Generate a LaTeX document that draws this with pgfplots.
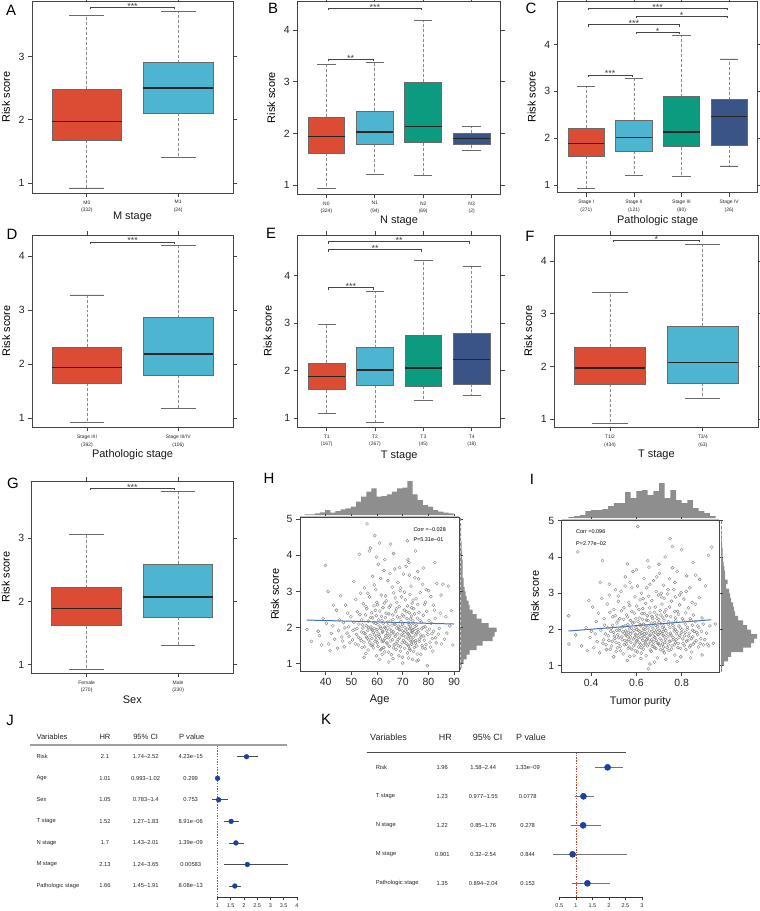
\documentclass[border=0pt]{standalone}
\usepackage{fontspec}
\setmainfont{Liberation Sans}
\usepackage{pgfplots}
\pgfplotsset{compat=1.18}
\usepgfplotslibrary{statistics}
\usetikzlibrary{calc}

\definecolor{cRed}{HTML}{DC4B33}
\definecolor{cCyan}{HTML}{4DB5D0}
\definecolor{cGreen}{HTML}{0D9B80}
\definecolor{cNavy}{HTML}{3B5488}
\definecolor{axgray}{HTML}{454545}
\definecolor{boxline}{HTML}{6A6A6A}
\definecolor{whisk}{HTML}{8C8C8C}
\definecolor{histgray}{HTML}{8E8E8E}
\definecolor{ptgray}{HTML}{858585}
\definecolor{regblue}{HTML}{3E6FC2}
\definecolor{fpblue}{HTML}{1E3FA0}
\definecolor{fpred}{HTML}{D9412B}

\newcommand{\fs}[1]{\fontsize{#1}{#1}\selectfont}

% box: position, lower whisker, q1, median, q3, upper whisker, fill
\newcommand{\bx}[7]{\addplot[fill=#7, draw=boxline, line width=0.8bp,
  boxplot prepared={draw position=#1, lower whisker=#2, lower quartile=#3,
  median=#4, upper quartile=#5, upper whisker=#6, box extend=0.76, whisker extend=0.38}]
  coordinates {};}
% significance bracket: x1, x2, mid, y, stars
\newcommand{\sig}[5]{%
  \draw[axgray, line width=0.6bp] (axis cs:#1,#4) ++(0bp,-2bp) -- ++(0bp,2bp) -- (axis cs:#2,#4) -- ++(0bp,-2bp);
  \node[font=\fs{9}, anchor=south, inner sep=0pt, yshift=-2bp, text=black!75] at (axis cs:#3,#4) {#5};}

\pgfplotsset{
  boxplot/draw direction=y,
  boxplot/draw/lower whisker/.code={%
    \draw[whisk, densely dashed, line width=0.7bp]
      (boxplot box cs:\pgfplotsboxplotvalue{lower quartile},0.5) --
      (boxplot whisker cs:\pgfplotsboxplotvalue{lower whisker},0.5);
    \draw[boxline, line width=0.8bp]
      (boxplot whisker cs:\pgfplotsboxplotvalue{lower whisker},0) --
      (boxplot whisker cs:\pgfplotsboxplotvalue{lower whisker},1);
  },
  boxplot/draw/upper whisker/.code={%
    \draw[whisk, densely dashed, line width=0.7bp]
      (boxplot box cs:\pgfplotsboxplotvalue{upper quartile},0.5) --
      (boxplot whisker cs:\pgfplotsboxplotvalue{upper whisker},0.5);
    \draw[boxline, line width=0.8bp]
      (boxplot whisker cs:\pgfplotsboxplotvalue{upper whisker},0) --
      (boxplot whisker cs:\pgfplotsboxplotvalue{upper whisker},1);
  },
  boxplot/every median/.style={draw=black!85, line width=1.4bp},
  base/.style={scale only axis, anchor=south west, clip=false,
    axis line style={axgray, line width=0.9bp},
    tick align=outside, major tick length=4bp,
    tick style={axgray, line width=0.7bp},
    tick label style={font=\fs{10.5}, text=black!85},
    /pgf/number format/assume math mode=true,
    ylabel style={font=\fs{11}, anchor=center},
    ylabel={Risk score}},
  bxp/.style={base, xmin=0.4, ytick={1,2,3,4}, xtick={1,2,3,4},
    xticklabel style={font=\fontsize{5}{7.6}\selectfont, align=center}},
  hist/.style={scale only axis, anchor=south west, hide axis, clip=false},
  fp/.style={scale only axis, anchor=south west, clip=false,
    axis x line=bottom, axis y line=none,
    axis line style={-, black!80, line width=0.7bp},
    tick align=outside, major tick length=3bp,
    tick style={black!80, line width=0.6bp},
    xticklabel style={font=\fs{5.5}, text=black!85},
    /pgf/number format/assume math mode=true},
  pts/.style={only marks, mark=o, mark size=1.5bp, ptgray, mark options={line width=0.4bp}},
}

\begin{document}
\begin{tikzpicture}
\useasboundingbox (0,0) rectangle (760bp,-911bp);

% ---------- A ----------
\begin{axis}[bxp, at={(32bp,-193bp)}, width=201bp, height=192bp,
  xmax=2.6, ymin=0.84, ymax=3.88, ytick={1,2,3},
  ylabel style={at={($(rel axis cs:0,0.5)+(-26bp,0bp)$)}},
  xticklabels={{M0\\(332)},{M1\\(24)}}]
\bx{1}{0.92}{1.68}{1.97}{2.48}{3.65}{cRed}
\bx{2}{1.40}{2.10}{2.50}{2.90}{3.72}{cCyan}
\sig{1.04}{1.96}{1.5}{3.78}{***}
\end{axis}

% ---------- B ----------
\begin{axis}[bxp, at={(297.3bp,-194bp)}, width=203.4bp, height=193bp,
  xmax=4.6, ymin=0.83, ymax=4.56,
  ylabel style={at={($(rel axis cs:0,0.5)+(-26bp,0bp)$)}},
  xticklabels={{N0\\(324)},{N1\\(94)},{N2\\(69)},{N3\\(2)}}]
\bx{1}{0.94}{1.62}{1.94}{2.32}{3.34}{cRed}
\bx{2}{1.21}{1.79}{2.03}{2.43}{3.37}{cCyan}
\bx{3}{1.19}{1.82}{2.13}{2.99}{4.19}{cGreen}
\bx{4}{1.67}{1.78}{1.90}{2.01}{2.13}{cNavy}
\sig{1.04}{1.96}{1.5}{3.43}{**}
\sig{1.04}{2.96}{2.0}{4.42}{***}
\end{axis}

% ---------- C ----------
\begin{axis}[bxp, at={(557.7bp,-192.7bp)}, width=200bp, height=191bp,
  xmax=4.6, ymin=0.84, ymax=4.91,
  ylabel style={at={($(rel axis cs:0,0.5)+(-26bp,0bp)$)}},
  xticklabels={{Stage I\\(271)},{Stage II\\(121)},{Stage III\\(80)},{Stage IV\\(26)}}]
\bx{1}{0.93}{1.62}{1.89}{2.22}{3.11}{cRed}
\bx{2}{1.21}{1.73}{2.01}{2.38}{3.28}{cCyan}
\bx{3}{1.19}{1.82}{2.13}{2.89}{4.20}{cGreen}
\bx{4}{1.41}{1.85}{2.46}{2.82}{3.69}{cNavy}
\sig{1.04}{1.96}{1.5}{3.35}{***}
\sig{2.04}{2.96}{2.5}{4.26}{*}
\sig{1.04}{2.96}{2.0}{4.42}{***}
\sig{2.04}{3.96}{3.0}{4.60}{*}
\sig{1.04}{3.96}{2.5}{4.77}{***}
\end{axis}

% ---------- D ----------
\begin{axis}[bxp, at={(32.3bp,-427.3bp)}, width=200.7bp, height=192.3bp,
  xmax=2.6, ymin=0.83, ymax=4.39,
  ylabel style={at={($(rel axis cs:0,0.5)+(-26bp,0bp)$)}},
  xticklabels={{Stage I/II\\(392)},{Stage III/IV\\(106)}}]
\bx{1}{0.92}{1.65}{1.94}{2.31}{3.28}{cRed}
\bx{2}{1.18}{1.80}{2.19}{2.86}{4.20}{cCyan}
\sig{1.04}{1.96}{1.5}{4.26}{***}
\end{axis}

% ---------- E ----------
\begin{axis}[bxp, at={(297.7bp,-427.3bp)}, width=203bp, height=192.3bp,
  xmax=4.6, ymin=0.81, ymax=4.86,
  ylabel style={at={($(rel axis cs:0,0.5)+(-30bp,0bp)$)}},
  xticklabels={{T1\\(167)},{T2\\(267)},{T3\\(45)},{T4\\(18)}}]
\bx{1}{1.11}{1.60}{1.88}{2.16}{2.98}{cRed}
\bx{2}{0.92}{1.70}{2.02}{2.49}{3.68}{cCyan}
\bx{3}{1.38}{1.68}{2.06}{2.75}{4.32}{cGreen}
\bx{4}{1.48}{1.72}{2.24}{2.79}{4.20}{cNavy}
\sig{1.04}{1.96}{1.5}{3.75}{***}
\sig{1.04}{2.96}{2.0}{4.55}{**}
\sig{1.04}{3.96}{2.5}{4.72}{**}
\end{axis}

% ---------- F ----------
\begin{axis}[bxp, at={(554.3bp,-427.3bp)}, width=204.2bp, height=192.3bp,
  xmax=2.6, ymin=0.85, ymax=4.49,
  ylabel style={at={($(rel axis cs:0,0.5)+(-26bp,0bp)$)}},
  xticklabels={{T1/2\\(434)},{T3/4\\(63)}}]
\bx{1}{0.92}{1.67}{1.97}{2.37}{3.40}{cRed}
\bx{2}{1.39}{1.68}{2.08}{2.76}{4.31}{cCyan}
\sig{1.04}{1.96}{1.5}{4.39}{*}
\end{axis}

% ---------- G ----------
\begin{axis}[bxp, at={(31.7bp,-673bp)}, width=201.3bp, height=192bp,
  xmax=2.6, ymin=0.87, ymax=3.905, ytick={1,2,3},
  ylabel style={at={($(rel axis cs:0,0.5)+(-26bp,0bp)$)}},
  xticklabels={{Female\\(270)},{Male\\(230)}}]
\bx{1}{0.93}{1.62}{1.89}{2.22}{3.06}{cRed}
\bx{2}{1.30}{1.75}{2.07}{2.59}{3.74}{cCyan}
\sig{1.04}{1.96}{1.5}{3.79}{***}
\end{axis}

% ---------- H ----------
\begin{axis}[hist, at={(300bp,-515bp)}, width=159.3bp, height=34bp,
  xmin=30, xmax=92, ymin=0, ymax=34]
\addplot[ybar interval, fill=histgray, draw=none] coordinates {
 (31.8,0.7) (33.8,0.7) (35.8,1.7) (37.8,2.7) (39.8,5) (41.8,2.3) (43.8,4)
 (45.8,5.7) (47.8,6.7) (49.8,8.3) (51.8,13.3) (53.8,18.3) (55.8,23.3)
 (57.8,26.7) (59.8,18.3) (61.8,19) (63.8,20.7) (65.8,23.3) (67.8,26.7)
 (69.8,27.3) (71.8,34) (73.8,20.7) (75.8,15) (77.8,10) (79.8,8.3) (81.8,5)
 (83.8,3.3) (85.8,2.3) (87.8,1.7) (89.8,0)};
\end{axis}
\begin{axis}[hist, at={(460.7bp,-671bp)}, width=36bp, height=153.3bp,
  xmin=0, xmax=36, ymin=0.8, ymax=5.04]
\addplot[xbar interval, fill=histgray, draw=none] coordinates {
 (1,0.875) (3,1.0) (6,1.125) (9,1.25) (16,1.375) (22,1.5) (32,1.625) (34,1.75)
 (36,1.875) (28,2.0) (21,2.125) (16,2.25) (12,2.375) (9,2.5) (8,2.625) (6,2.75)
 (5,2.875) (4,3.0) (3,3.125) (3,3.25) (2,3.375) (2,3.5) (2,3.625) (2,3.75)
 (1.5,3.875) (1.5,4.0) (1,4.125) (1,4.25) (0.5,4.375) (0.5,4.5) (0.3,4.625)
 (0.3,4.75) (0,4.875)};
\end{axis}
\begin{axis}[base, at={(300bp,-671bp)}, width=159.3bp, height=153.3bp,
  xmin=30, xmax=92, ymin=0.8, ymax=5.04, ytick={1,2,3,4,5},
  xtick={40,50,60,70,80,90},
  ylabel style={at={($(rel axis cs:0,0.5)+(-25bp,0bp)$)}}]
\addplot[pts] coordinates {
 (32.7,1.95) (34.5,1.62) (37.1,1.90) (37.6,1.78) (39.0,2.25) (39.9,3.72) (40.9,3.00)
 (41.2,1.55) (41.7,1.36) (42.8,2.05) (43.5,1.68) (44.2,2.48) (45.0,1.92) (45.8,2.88)
 (46.3,1.74) (46.9,2.14) (47.2,1.47) (47.8,2.62) (48.3,1.85) (48.9,2.02) (49.4,1.58)
 (49.8,2.30) (50.4,1.66) (50.9,3.28) (51.3,1.95) (51.7,2.78) (52.0,1.81) (52.3,2.44)
 (52.6,1.52) (52.9,2.10) (53.1,4.03) (53.4,1.70) (53.6,2.95) (53.9,1.88) (54.0,2.21)
 (54.2,1.45) (54.5,1.99) (54.7,2.66) (54.9,1.60) (55.1,3.10) (55.3,1.83) (55.5,2.35)
 (55.6,1.28) (55.8,2.05) (55.9,1.74) (56.0,2.52) (56.1,4.87) (56.3,1.92) (56.5,1.38)
 (56.6,2.18) (56.8,1.66) (57.0,4.12) (57.1,2.85) (57.3,1.79) (57.4,4.20) (57.6,2.02)
 (57.7,1.51) (57.9,2.41) (57.9,1.95) (58.0,1.70) (58.2,2.27) (58.3,3.42) (58.5,1.86)
 (58.6,1.44) (58.8,2.60) (58.9,1.98) (59.1,4.54) (59.2,1.62) (59.4,2.12) (59.5,3.05)
 (59.6,1.76) (59.7,2.33) (59.8,1.22) (59.9,1.90) (59.9,2.70) (60.1,1.58) (60.3,2.08)
 (60.5,3.75) (60.7,1.82) (61.0,4.34) (61.1,2.46) (61.3,1.69) (61.5,1.97) (61.6,2.90)
 (61.8,1.41) (61.9,2.20) (62.1,1.87) (62.3,2.55) (62.5,1.63) (62.7,3.58) (62.9,2.01)
 (63.0,1.33) (63.2,2.28) (63.4,1.78) (63.6,2.74) (63.7,1.93) (63.9,1.55) (64.0,2.15)
 (64.2,3.30) (64.4,1.72) (64.6,2.38) (64.8,1.48) (65.0,1.96) (65.2,4.31) (65.3,2.62)
 (65.5,1.84) (65.6,1.25) (65.8,2.07) (65.9,3.12) (66.0,1.67) (66.2,2.23) (66.3,1.89)
 (66.5,2.96) (66.6,1.52) (66.8,2.11) (66.9,3.62) (67.1,1.76) (67.2,2.44) (67.4,1.40)
 (67.6,1.99) (67.7,2.70) (67.8,1.61) (67.9,2.30) (68.0,1.83) (68.1,3.25) (68.3,1.50)
 (68.4,2.04) (68.6,2.58) (68.7,1.71) (68.8,1.94) (69.0,3.02) (69.1,1.35) (69.3,2.17)
 (69.4,1.80) (69.5,2.85) (69.7,1.58) (69.8,2.36) (69.9,1.91) (69.9,1.18) (70.0,2.10)
 (70.2,1.65) (70.3,3.48) (70.5,1.87) (70.6,2.49) (70.7,1.43) (70.9,2.00) (71.0,2.77)
 (71.2,1.74) (71.3,3.70) (71.4,1.56) (71.6,2.25) (71.7,1.96) (71.8,1.30) (71.9,2.60)
 (71.9,1.84) (72.0,3.88) (72.1,1.69) (72.2,2.14) (72.3,1.49) (72.4,3.80) (72.5,2.41)
 (72.6,1.78) (72.7,1.97) (72.8,2.92) (72.9,1.38) (73.0,2.05) (73.1,1.62) (73.2,3.15)
 (73.3,1.88) (73.4,2.32) (73.5,1.54) (73.6,2.68) (73.7,1.92) (73.8,1.12) (73.9,2.19)
 (74.1,1.73) (74.3,2.52) (74.5,1.45) (74.7,3.38) (74.8,2.03) (75.0,1.64) (75.2,2.80)
 (75.4,1.86) (75.6,1.27) (75.7,2.26) (75.8,3.55) (75.9,1.95) (76.1,1.10) (76.3,2.42)
 (76.5,1.68) (76.8,2.97) (77.0,1.80) (77.2,2.15) (77.5,1.50) (77.7,3.20) (77.9,2.01)
 (78.2,1.77) (78.5,2.64) (78.8,1.42) (79.1,3.05) (79.4,1.90) (79.6,0.95) (80.2,2.20)
 (80.6,1.60) (80.9,2.86) (81.3,1.83) (81.7,1.35) (82.3,2.48) (82.8,1.72) (83.3,3.22)
 (84.2,1.98) (85.0,1.55) (85.6,3.20) (86.8,2.30) (87.7,3.15) (88.9,2.47) (89.5,1.52)};
\addplot[pts] coordinates {
 (50.6,1.92) (51.0,2.15) (51.5,1.55) (52.2,1.98) (52.8,1.73) (53.3,2.36) (53.8,1.64)
 (54.3,2.08) (54.8,1.86) (55.2,1.47) (55.7,2.58) (56.2,1.71) (56.7,2.00) (57.2,1.58)
 (57.5,2.28) (58.1,1.93) (58.4,1.52) (58.7,2.14) (59.0,1.80) (59.3,2.48) (59.6,1.66)
 (60.0,1.95) (60.2,2.63) (60.4,1.48) (60.6,2.22) (60.8,1.75) (61.2,2.02) (61.4,1.39)
 (61.7,2.31) (62.0,1.62) (62.2,1.90) (62.4,2.12) (62.6,1.45) (62.8,2.68) (63.1,1.70)
 (63.3,1.99) (63.5,2.40) (63.8,1.58) (64.1,1.84) (64.3,2.05) (64.5,1.32) (64.7,2.56)
 (64.9,1.76) (65.1,2.18) (65.4,1.63) (65.7,1.91) (66.1,2.35) (66.4,1.44) (66.7,1.82)
 (67.0,2.09) (67.3,1.56) (67.5,2.52) (68.2,1.68) (68.5,1.96) (68.9,2.27) (69.2,1.47)
 (69.6,2.03) (70.1,1.78) (70.4,2.32) (70.8,1.60) (71.1,1.90) (71.5,2.44) (72.0,1.52)
 (72.2,1.82) (72.5,2.08) (72.7,1.41) (72.9,2.24) (73.1,1.73) (73.3,1.98) (73.5,2.55)
 (73.7,1.63) (73.9,1.87) (74.0,2.12) (74.2,1.34) (74.4,1.95) (74.6,2.38) (74.9,1.57)
 (75.1,1.80) (75.3,2.06) (75.5,1.49) (75.8,2.64) (76.0,1.88) (76.4,1.62) (76.7,2.20)
 (77.1,1.74) (77.4,1.97) (77.8,1.44) (78.0,2.34) (78.4,1.65) (78.7,2.02) (79.0,1.53)
 (79.3,2.45) (79.8,1.81) (80.4,1.96) (80.8,1.46) (81.1,2.12) (81.5,1.70) (82.0,1.90)
 (82.6,2.26) (83.0,1.58) (83.8,1.82) (84.6,2.40) (86.2,1.68) (87.2,1.85) (88.3,2.05)
 (45.3,2.21) (46.6,1.63) (47.5,1.99) (48.6,2.40) (49.1,1.76) (44.6,1.43) (43.0,2.62)
 (42.2,1.84) (40.3,2.12) (38.4,1.52) (56.4,2.95) (58.9,3.18) (61.4,3.36) (63.3,2.88)
 (65.0,3.50) (67.0,2.82) (69.2,3.10) (70.6,2.98) (72.6,3.45) (74.0,2.76) (76.2,3.35)
 (78.9,2.70) (80.1,3.02) (81.9,2.62) (84.9,2.90) (66.4,4.05) (63.0,3.88) (75.0,4.12)
 (68.8,3.66) (59.8,3.95) (71.8,4.40) (78.0,3.65) (82.5,3.80) (55.0,1.18) (61.0,1.12)
 (64.6,1.05) (68.5,1.22) (72.3,1.16) (75.5,1.08) (77.0,1.26) (70.0,1.02) (66.2,1.14)
 (62.0,1.26)};
\addplot[regblue, line width=1bp] coordinates {(32.6,2.21) (89.9,2.10)};
\end{axis}

% ---------- I ----------
\begin{axis}[hist, at={(561.7bp,-518bp)}, width=157.3bp, height=35bp,
  xmin=0.27, xmax=0.965, ymin=0, ymax=35]
\addplot[ybar interval, fill=histgray, draw=none] coordinates {
 (0.300,1) (0.325,2) (0.350,3) (0.375,7) (0.400,8) (0.425,8) (0.450,9)
 (0.475,12) (0.500,15) (0.525,15) (0.550,26) (0.575,20) (0.600,27) (0.625,28)
 (0.650,23) (0.675,27) (0.700,35) (0.725,20) (0.750,28) (0.775,18) (0.800,15)
 (0.825,18) (0.850,10) (0.875,7) (0.900,5) (0.925,2) (0.950,0)};
\end{axis}
\begin{axis}[hist, at={(721bp,-672bp)}, width=36bp, height=151.3bp,
  xmin=0, xmax=36, ymin=0.83, ymax=5.0]
\addplot[xbar interval, fill=histgray, draw=none] coordinates {
 (1,0.875) (3,1.0) (7,1.125) (10,1.25) (22,1.375) (30,1.5) (33,1.625) (36,1.75)
 (30,1.875) (26,2.0) (22,2.125) (17,2.25) (14,2.375) (13,2.5) (12,2.625) (10,2.75)
 (9,2.875) (8,3.0) (5,3.125) (6.5,3.25) (4,3.375) (4,3.5) (3.3,3.625) (2.7,3.75)
 (2,3.875) (1.5,4.0) (1.5,4.125) (1,4.25) (0.5,4.375) (0.5,4.5) (0.3,4.625)
 (0.3,4.75) (0,4.875)};
\end{axis}
\begin{axis}[base, at={(561.7bp,-672bp)}, width=157.3bp, height=151.3bp,
  xmin=0.27, xmax=0.965, ymin=0.83, ymax=5.0, ytick={1,2,3,4,5},
  xtick={0.4,0.6,0.8},
  ylabel style={at={($(rel axis cs:0,0.5)+(-26.7bp,0bp)$)}}]
\addplot[pts] coordinates {
 (0.300,2.38) (0.302,1.60) (0.332,1.85) (0.341,4.14) (0.358,1.55) (0.378,2.05) (0.383,1.42)
 (0.390,2.80) (0.395,1.78) (0.401,1.95) (0.407,2.62) (0.412,1.50) (0.418,1.88) (0.423,2.22)
 (0.427,1.67) (0.432,2.45) (0.438,1.36) (0.443,1.98) (0.447,2.86) (0.450,3.90) (0.455,1.72)
 (0.460,2.12) (0.466,1.58) (0.471,2.70) (0.476,1.83) (0.480,3.25) (0.484,1.46) (0.489,2.03)
 (0.493,1.68) (0.496,2.35) (0.499,1.92) (0.501,2.55) (0.505,1.75) (0.508,3.10) (0.511,1.40)
 (0.514,2.18) (0.518,1.86) (0.520,2.78) (0.523,1.62) (0.524,1.97) (0.526,2.30) (0.529,1.53)
 (0.532,3.05) (0.536,1.80) (0.539,2.08) (0.542,1.33) (0.545,2.60) (0.547,1.90) (0.549,1.70)
 (0.551,3.45) (0.553,1.96) (0.555,1.60) (0.557,2.40) (0.559,1.82) (0.560,3.81) (0.562,2.14)
 (0.564,1.48) (0.566,2.75) (0.567,1.73) (0.569,2.02) (0.571,1.26) (0.572,3.30) (0.574,1.88)
 (0.574,2.25) (0.576,1.65) (0.579,2.50) (0.582,1.94) (0.585,3.60) (0.588,1.55) (0.590,2.20)
 (0.592,1.78) (0.594,2.90) (0.596,1.42) (0.598,2.06) (0.599,1.85) (0.601,2.65) (0.603,1.70)
 (0.605,3.20) (0.606,4.84) (0.608,1.98) (0.610,1.52) (0.612,2.32) (0.614,1.88) (0.616,2.82)
 (0.618,1.60) (0.619,2.10) (0.621,1.35) (0.622,3.00) (0.623,1.76) (0.624,2.44) (0.626,1.92)
 (0.628,2.58) (0.630,1.46) (0.632,2.15) (0.634,3.40) (0.636,1.81) (0.638,2.00) (0.640,1.63)
 (0.641,2.72) (0.643,1.28) (0.644,2.26) (0.645,1.90) (0.646,3.15) (0.647,1.72) (0.648,2.38)
 (0.649,1.55) (0.651,2.05) (0.653,0.92) (0.654,2.92) (0.656,3.72) (0.658,1.84) (0.660,2.46)
 (0.662,1.67) (0.664,2.12) (0.666,1.40) (0.668,2.80) (0.670,1.95) (0.672,2.30) (0.674,1.58)
 (0.676,3.35) (0.678,1.80) (0.680,2.20) (0.681,1.50) (0.683,2.62) (0.685,1.93) (0.687,3.05)
 (0.688,1.70) (0.690,2.40) (0.692,1.22) (0.694,2.08) (0.695,1.86) (0.697,2.95) (0.698,1.62)
 (0.699,2.28) (0.701,1.98) (0.702,3.55) (0.704,1.75) (0.705,2.52) (0.707,1.45) (0.709,2.16)
 (0.710,3.00) (0.712,1.88) (0.713,2.70) (0.715,1.60) (0.716,2.34) (0.718,1.95) (0.719,3.22)
 (0.720,1.52) (0.721,2.10) (0.722,1.82) (0.723,2.86) (0.724,1.36) (0.724,2.48) (0.725,2.02)
 (0.727,4.00) (0.729,1.73) (0.731,2.55) (0.734,1.90) (0.737,2.98) (0.740,1.58) (0.742,2.22)
 (0.744,1.42) (0.746,3.40) (0.748,2.05) (0.749,1.68) (0.749,4.50) (0.751,2.36) (0.753,1.85)
 (0.755,2.78) (0.757,1.55) (0.759,4.29) (0.761,2.12) (0.763,1.72) (0.765,3.10) (0.767,1.96)
 (0.769,2.50) (0.770,1.30) (0.771,2.00) (0.772,2.90) (0.773,1.64) (0.774,2.24) (0.777,1.88)
 (0.780,3.60) (0.783,1.50) (0.786,2.42) (0.789,1.78) (0.791,2.68) (0.794,2.04) (0.796,1.25)
 (0.798,3.02) (0.799,1.92) (0.800,4.20) (0.803,2.30) (0.806,1.62) (0.810,2.84) (0.813,1.83)
 (0.816,2.15) (0.819,1.45) (0.822,3.48) (0.824,2.00) (0.827,1.70) (0.830,2.60) (0.833,1.90)
 (0.836,3.15) (0.839,1.56) (0.842,2.25) (0.844,1.38) (0.846,2.75) (0.848,1.98) (0.849,1.80)
 (0.852,2.40) (0.857,1.65) (0.862,3.50) (0.867,1.92) (0.871,2.10) (0.874,1.52) (0.878,2.88)
 (0.884,1.75) (0.890,2.32) (0.896,1.58) (0.905,3.20) (0.913,1.60) (0.918,4.05) (0.920,1.55)
 (0.933,4.27) (0.940,1.62) (0.948,2.15)};
\addplot[pts] coordinates {
 (0.452,1.62) (0.458,2.30) (0.463,1.88) (0.468,1.45) (0.473,2.05) (0.478,1.70) (0.483,2.48)
 (0.487,1.95) (0.491,1.55) (0.495,2.12) (0.503,1.82) (0.507,2.38) (0.510,1.64) (0.513,1.98)
 (0.516,1.50) (0.519,2.24) (0.522,1.78) (0.527,2.02) (0.530,1.42) (0.534,2.52) (0.537,1.72)
 (0.540,1.94) (0.543,2.28) (0.546,1.58) (0.550,2.10) (0.554,1.85) (0.558,1.68) (0.561,2.35)
 (0.565,1.92) (0.568,1.52) (0.570,2.66) (0.573,1.80) (0.577,2.04) (0.580,1.46) (0.583,2.18)
 (0.586,1.74) (0.589,1.98) (0.591,2.45) (0.593,1.60) (0.595,1.87) (0.597,2.30) (0.600,1.68)
 (0.602,2.00) (0.604,1.38) (0.607,2.22) (0.609,1.78) (0.611,2.55) (0.613,1.63) (0.615,1.95)
 (0.617,2.14) (0.620,1.50) (0.625,1.84) (0.627,2.28) (0.629,1.70) (0.631,2.02) (0.633,1.57)
 (0.635,2.44) (0.637,1.88) (0.639,1.66) (0.642,2.10) (0.650,1.76) (0.652,2.25) (0.655,1.60)
 (0.657,1.96) (0.659,2.60) (0.661,1.44) (0.663,1.85) (0.665,2.18) (0.667,1.72) (0.669,2.36)
 (0.671,1.54) (0.673,2.04) (0.675,1.90) (0.677,1.66) (0.679,2.48) (0.682,1.78) (0.684,2.12)
 (0.686,1.48) (0.689,1.99) (0.691,2.30) (0.693,1.62) (0.696,1.86) (0.700,2.20) (0.703,1.56)
 (0.706,1.92) (0.708,2.40) (0.711,1.70) (0.714,2.06) (0.717,1.42) (0.719,1.84) (0.722,2.26)
 (0.726,1.64) (0.730,1.98) (0.733,2.38) (0.736,1.50) (0.739,1.80) (0.741,2.14) (0.745,1.68)
 (0.747,2.62) (0.750,1.90) (0.754,1.46) (0.758,2.18) (0.762,1.78) (0.766,2.04) (0.768,1.58)
 (0.772,2.32) (0.776,1.72) (0.779,1.95) (0.782,2.50) (0.785,1.62) (0.788,2.10) (0.792,1.84)
 (0.795,1.48) (0.801,2.00) (0.805,1.74) (0.808,2.24) (0.812,1.56) (0.815,1.92) (0.818,2.46)
 (0.821,1.68) (0.826,2.06) (0.831,1.82) (0.835,1.52) (0.838,2.30) (0.843,1.75) (0.847,2.12)
 (0.851,1.60) (0.855,1.95) (0.860,2.22) (0.865,1.70) (0.870,1.86) (0.876,2.05) (0.882,1.62)
 (0.888,1.95) (0.895,2.15) (0.902,1.72) (0.910,1.90) (0.925,2.10) (0.520,2.92) (0.580,3.15)
 (0.630,2.85) (0.660,3.25) (0.690,3.45) (0.710,2.90) (0.740,3.10) (0.770,3.30) (0.790,2.95)
 (0.820,3.05) (0.860,2.70) (0.880,3.38) (0.600,3.65) (0.650,3.90) (0.700,3.80) (0.760,3.70)
 (0.850,3.85) (0.550,3.20) (0.480,2.95) (0.440,3.30) (0.500,1.25) (0.560,1.15) (0.620,1.20)
 (0.680,1.10) (0.730,1.18) (0.780,1.12) (0.840,1.22) (0.890,1.30) (0.660,1.05) (0.590,1.28)};
\addplot[regblue, line width=1bp] coordinates {(0.30,1.96) (0.93,2.27)};
\end{axis}

% ---------- J ----------
\begin{axis}[fp, at={(217.3bp,-897.3bp)}, width=79.7bp, height=152.3bp,
  xmin=1, xmax=4, ymin=-7.524, ymax=-0.457, xtick={1,1.5,2,2.5,3,3.5,4}]
\addplot[fpred, line width=0.6bp, dash pattern=on 1.5bp off 1.2bp] coordinates {(1,-0.457) (1,-7.524)};
\addplot[only marks, mark=*, mark size=2.4bp, fpblue,
  error bars/.cd, x dir=both, x explicit, error mark=none,
  error bar style={black!70, line width=0.8bp}] coordinates {
 (2.1,-1) += (0.42,0) -= (0.36,0)
 (1.01,-2) += (0.01,0) -= (0.017,0)
 (1.05,-3) += (0.35,0) -= (0.267,0)
 (1.52,-4) += (0.31,0) -= (0.25,0)
 (1.7,-5) += (0.31,0) -= (0.27,0)
 (2.13,-6) += (1.52,0) -= (0.89,0)
 (1.66,-7) += (0.25,0) -= (0.21,0)};
\end{axis}

% ---------- K ----------
\begin{axis}[fp, at={(559.3bp,-897.3bp)}, width=82.7bp, height=145.3bp,
  xmin=0.5, xmax=3, ymin=-5.483, ymax=-0.472, xtick={0.5,1,1.5,2,2.5,3}]
\addplot[fpred, line width=0.6bp, dash pattern=on 1.5bp off 1.2bp] coordinates {(1,-0.472) (1,-5.483)};
\addplot[only marks, mark=*, mark size=3.1bp, fpblue,
  error bars/.cd, x dir=both, x explicit, error mark=none,
  error bar style={black!55, line width=0.8bp}] coordinates {
 (1.96,-1) += (0.48,0) -= (0.38,0)
 (1.23,-2) += (0.32,0) -= (0.253,0)
 (1.22,-3) += (0.54,0) -= (0.37,0)
 (0.901,-4) += (1.639,0) -= (0.581,0)
 (1.35,-5) += (0.69,0) -= (0.456,0)};
\end{axis}

% ---------- annotations in image pixel coordinates ----------
\begin{scope}[x=1bp, y=-1bp]
\foreach \l/\xx/\yy in {A/11/10, B/273/8, C/531/8, D/12/234, E/271/233, F/530/236,
  G/13/483, H/269/478, I/532/479, J/10/720, K/326/719}
  \node[font=\fs{15}] at (\xx,\yy) {\l};
% axis titles
\begin{scope}[every node/.style={font=\fs{11}, text=black!90}]
\node at (132.5,216.7) {M stage};
\node at (399,221) {N stage};
\node at (657.7,221) {Pathologic stage};
\node at (132.6,455) {Pathologic stage};
\node at (399.2,455.5) {T stage};
\node at (656.4,454.5) {T stage};
\node at (132.3,700) {Sex};
\node at (379.6,700) {Age};
\node at (640.3,702) {Tumor purity};
\end{scope}
% histogram base lines
\draw[black!25, line width=0.8bp] (300,516) -- (459.3,516);
\draw[black!45, line width=0.6bp, densely dashed] (460.7,517.7) -- (460.7,671);
\draw[black!25, line width=0.8bp] (561.7,519) -- (719,519);
\draw[black!45, line width=0.6bp, densely dashed] (721,520.7) -- (721,672);
% correlation texts
\node[font=\fs{5.5}, anchor=west] at (410,530) {Corr =−0.028};
\node[font=\fs{5.5}, anchor=west] at (410,540) {P=5.31e−01};
\node[font=\fs{5.5}, anchor=west] at (572.7,531.7) {Corr =0.096};
\node[font=\fs{5.5}, anchor=west] at (572.7,543.3) {P=2.77e−02};
% J table
\draw[black!38, line width=2.2bp] (30,745) -- (287.3,745);
\begin{scope}[every node/.style={font=\fs{7.6}, text=black!85}]
\node[anchor=west] at (33,737) {Variables};
\node at (105,737) {HR};
\node at (145.7,737) {95\% CI};
\node at (191.7,737) {P value};
\end{scope}
\begin{scope}[every node/.style={font=\fs{5.8}, text=black!85}]
\node[anchor=west] at (33,756.7) {Risk};
\node[anchor=west] at (33,778.2) {Age};
\node[anchor=west] at (33,799.8) {Sex};
\node[anchor=west] at (33,821.3) {T stage};
\node[anchor=west] at (33,842.9) {N stage};
\node[anchor=west] at (33,864.4) {M stage};
\node[anchor=west] at (33,886.0) {Pathologic stage};
\node at (105,756.7) {2.1};
\node at (105,778.2) {1.01};
\node at (105,799.8) {1.05};
\node at (105,821.3) {1.52};
\node at (105,842.9) {1.7};
\node at (105,864.4) {2.13};
\node at (105,886.0) {1.66};
\node at (145.7,756.7) {1.74–2.52};
\node at (145.7,778.2) {0.993–1.02};
\node at (145.7,799.8) {0.783–1.4};
\node at (145.7,821.3) {1.27–1.83};
\node at (145.7,842.9) {1.43–2.01};
\node at (145.7,864.4) {1.24–3.65};
\node at (145.7,886.0) {1.45–1.91};
\node at (190.7,756.7) {4.23e−15};
\node at (190.7,778.2) {0.299};
\node at (190.7,799.8) {0.753};
\node at (190.7,821.3) {8.91e−06};
\node at (190.7,842.9) {1.39e−09};
\node at (190.7,864.4) {0.00583};
\node at (190.7,886.0) {8.08e−13};
\end{scope}
% K table
\draw[black!70, line width=0.9bp] (366.7,752) -- (626,752);
\begin{scope}[every node/.style={font=\fs{9}, text=black!85}]
\node[anchor=west] at (366.7,737) {Variables};
\node at (445.3,737) {HR};
\node at (487.7,737) {95\% CI};
\node at (531,737) {P value};
\end{scope}
\begin{scope}[every node/.style={font=\fs{5.8}, text=black!85}]
\node[anchor=west] at (372.3,767.3) {Risk};
\node[anchor=west] at (372.3,796.3) {T stage};
\node[anchor=west] at (372.3,825.3) {N stage};
\node[anchor=west] at (372.3,854.3) {M stage};
\node[anchor=west] at (372.3,883.3) {Pathologic stage};
\node at (442.3,767.3) {1.96};
\node at (442.3,796.3) {1.23};
\node at (442.3,825.3) {1.22};
\node at (442.3,854.3) {0.901};
\node at (442.3,883.3) {1.35};
\node at (483.3,767.3) {1.58–2.44};
\node at (483.3,796.3) {0.977–1.55};
\node at (483.3,825.3) {0.85–1.76};
\node at (483.3,854.3) {0.32–2.54};
\node at (483.3,883.3) {0.894–2.04};
\node at (527.7,767.3) {1.33e−09};
\node at (527.7,796.3) {0.0778};
\node at (527.7,825.3) {0.278};
\node at (527.7,854.3) {0.844};
\node at (527.7,883.3) {0.153};
\end{scope}
\end{scope}
\end{tikzpicture}
\end{document}
